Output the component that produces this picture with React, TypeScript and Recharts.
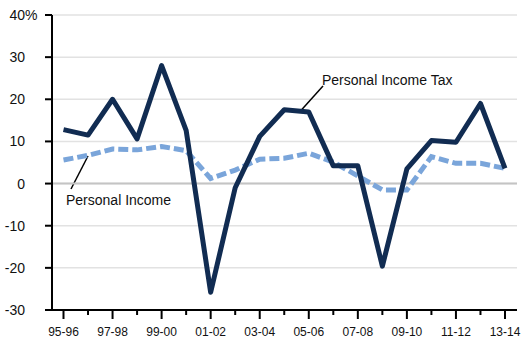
import { LineChart, Line, XAxis, YAxis, CartesianGrid, ReferenceLine, Customized } from 'recharts';

const YEARS = ['95-96', '96-97', '97-98', '98-99', '99-00', '00-01', '01-02', '02-03', '03-04', '04-05', '05-06', '06-07', '07-08', '08-09', '09-10', '10-11', '11-12', '12-13', '13-14'];
const INCOME_TAX = [12.8, 11.5, 20, 10.6, 28, 12.6, -25.8, -1, 11.2, 17.5, 17, 4.2, 4.2, -19.6, 3.5, 10.2, 9.8, 19, 3.6];
const PERSONAL_INCOME = [5.6, 6.7, 8.2, 8, 8.8, 7.8, 1.2, 3.2, 5.8, 6, 7.2, 5.1, 1.8, -1.5, -1.5, 6.4, 4.8, 4.8, 3.6];
const Y_TICKS = [-30, -20, -10, 0, 10, 20, 30, 40];

const data = YEARS.map((year, i) => ({ year, tax: INCOME_TAX[i], income: PERSONAL_INCOME[i] }));

const FONT = '"Liberation Sans", Arial, sans-serif';

const XTick = (props: any) => {
    const { x, y, index, payload } = props;
    const labeled = index % 2 === 0;
    return (
        <g>
            <line x1={x} x2={x} y1={y} y2={y + (labeled ? 9 : 5)} stroke="#000" strokeWidth={2} />
            {labeled && (
                <text x={x} y={y + 26} textAnchor="middle" fontSize={12} fontFamily={FONT} fill="#111">{payload.value}</text>
            )}
        </g>
    );
};

const YTick = (props: any) => {
    const { x, y, payload } = props;
    return (
        <g>
            <text x={x} y={y + 5} textAnchor="end" fontSize={14} fontFamily={FONT} fill="#111">{payload.value}</text>
            {payload.value === 40 && (
                <text x={x} y={y + 5} textAnchor="start" fontSize={14} fontFamily={FONT} fill="#111">%</text>
            )}
        </g>
    );
};

const Notes = () => (
    <g fontFamily={FONT} fontSize={14} fill="#111">
        <line x1={323} y1={86} x2={300.5} y2={111} stroke="#000" strokeWidth={1.5} />
        <text x={322} y={85}>Personal Income Tax</text>
        <line x1={71} y1={189} x2={88} y2={156} stroke="#000" strokeWidth={1.5} />
        <text x={66} y={205}>Personal Income</text>
    </g>
);

export default function App() {
    return (
        <div style={{ position: 'absolute', left: 0, top: 0, background: '#fff' }}>
            <LineChart width={531} height={354} data={data} margin={{ top: 15, right: 14, bottom: 0, left: 0 }}>
                <CartesianGrid vertical={false} stroke="#e2e2e2" strokeWidth={1.5} />
                <ReferenceLine y={0} stroke="#c4c4c4" strokeWidth={2} />
                <XAxis dataKey="year" interval={0} tickSize={0} tickMargin={0} height={44}
                    padding={{ left: 11.5, right: 12 }} axisLine={{ stroke: '#000', strokeWidth: 2 }}
                    tickLine={false} tick={<XTick />} />
                <YAxis domain={[-30, 40]} ticks={Y_TICKS} width={52} tickSize={7} tickMargin={20}
                    axisLine={{ stroke: '#000', strokeWidth: 2 }} tickLine={{ stroke: '#000', strokeWidth: 2 }}
                    tick={<YTick />} />
                <Line dataKey="income" stroke="#7aa5da" strokeWidth={5} strokeDasharray="10 4" dot={false} isAnimationActive={false} />
                <Line dataKey="tax" stroke="#112c52" strokeWidth={5} dot={false} strokeLinejoin="round" isAnimationActive={false} />
                <Customized component={Notes} />
            </LineChart>
        </div>
    );
}
